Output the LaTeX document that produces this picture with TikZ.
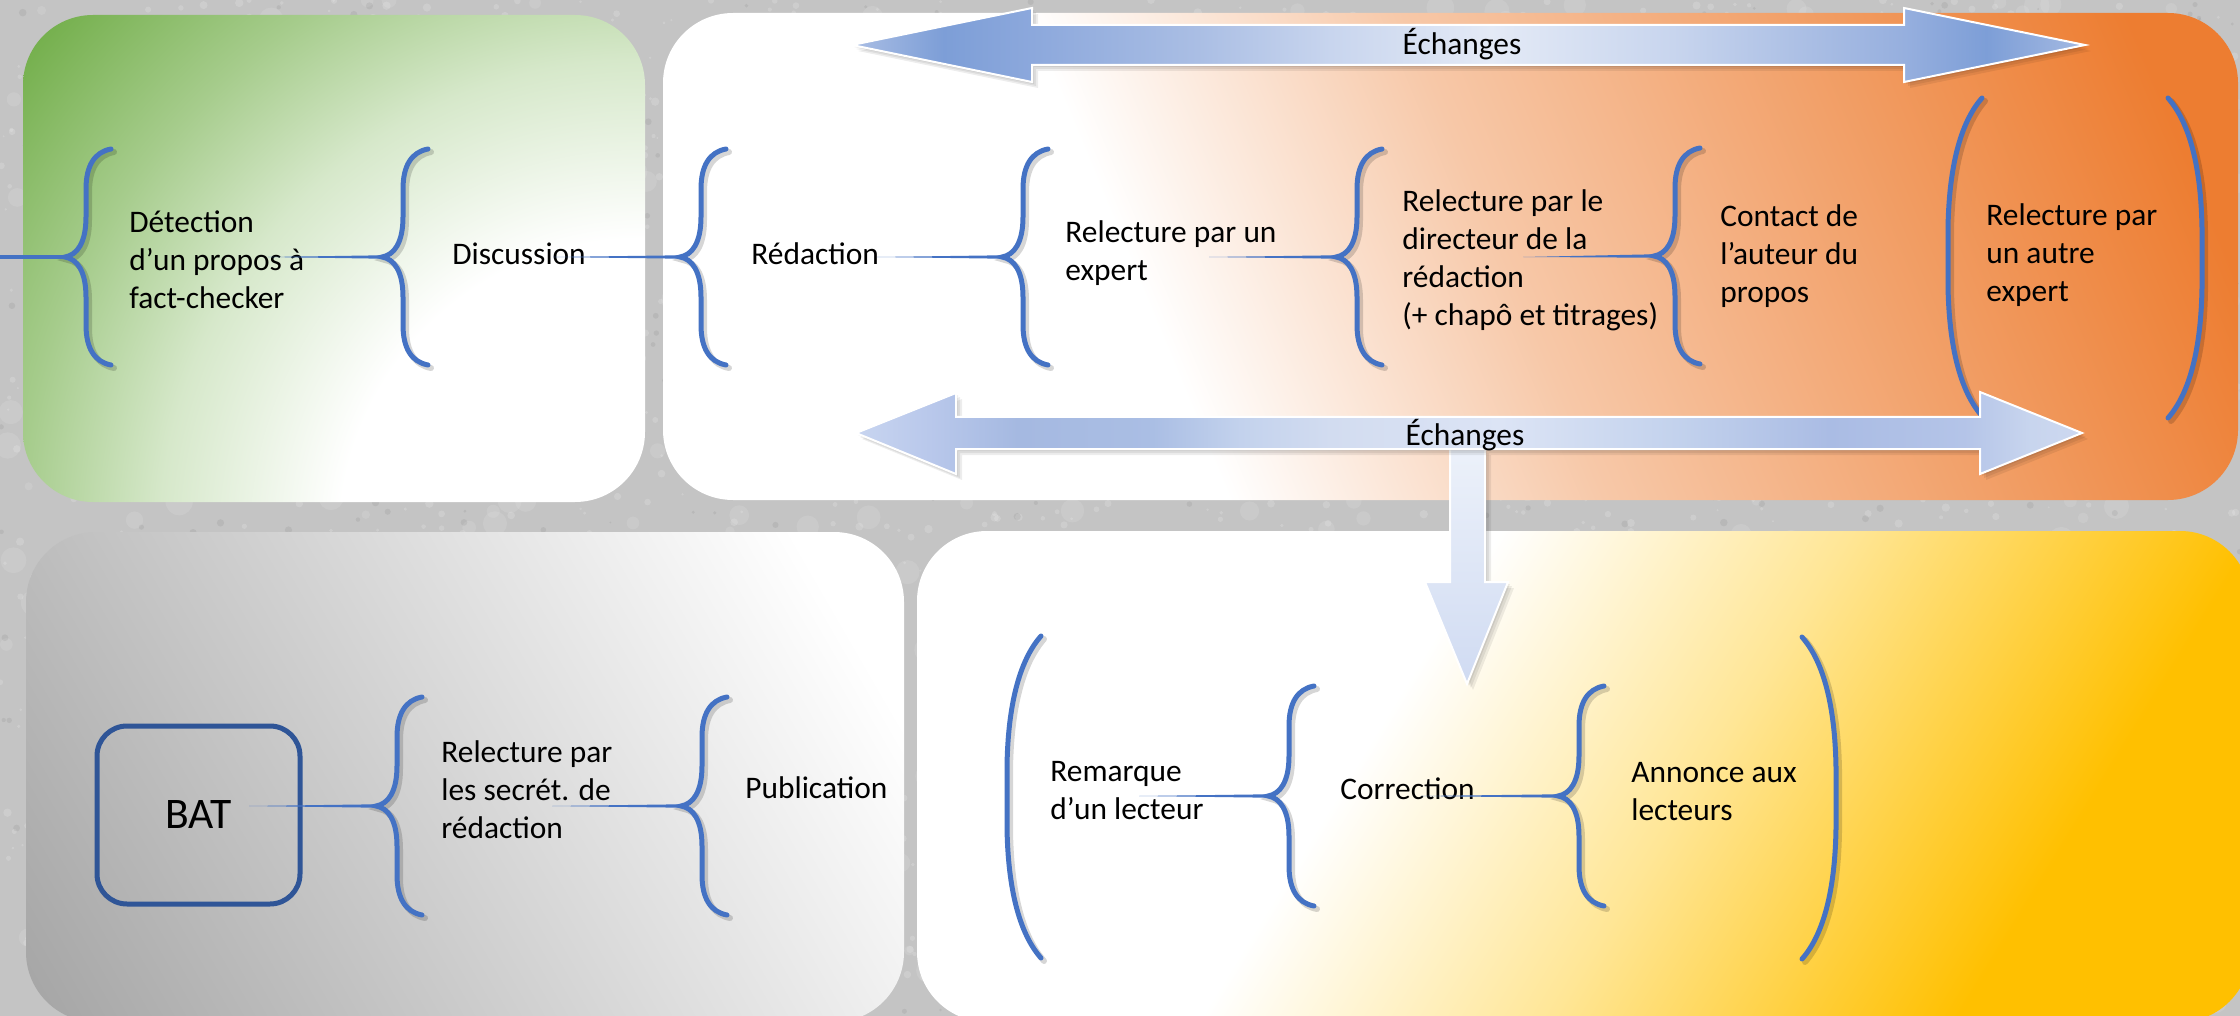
\documentclass[tikz,border=0pt]{standalone}
\usepackage{fontspec}
\setmainfont{Carlito}
\usetikzlibrary{calc}

% ---------- colours ----------
\definecolor{bgGrey}{RGB}{196,196,196}
\definecolor{braceBlue}{RGB}{68,114,196}
\definecolor{batBlue}{RGB}{47,85,151}
\definecolor{grnA}{RGB}{112,173,71}
\definecolor{grnB}{RGB}{166,204,140}
\definecolor{grnC}{RGB}{214,232,202}
\definecolor{orgA}{RGB}{247,200,168}
\definecolor{orgB}{RGB}{237,125,49}
\definecolor{gryA}{RGB}{165,165,165}
\definecolor{ylwA}{RGB}{255,230,150}
\definecolor{ylwB}{RGB}{255,192,0}
\definecolor{downTop}{RGB}{236,241,250}
\definecolor{downBot}{RGB}{208,219,242}

% ---------- panel gradients ----------
% green: radial, white around the lower right corner
\pgfdeclareradialshading{greenpanel}{\pgfpoint{0bp}{0bp}}{color(0bp)=(white); color(9.4bp)=(white); color(15bp)=(grnC); color(19.4bp)=(grnB); color(25bp)=(grnA); color(50bp)=(grnA)}
\pgfdeclarehorizontalshading{orangepanel}{100bp}{color(0bp)=(white); color(41bp)=(white); color(51.5bp)=(orgA); color(71.7bp)=(orgB); color(100bp)=(orgB)}
\pgfdeclarehorizontalshading{greypanel}{100bp}{color(0bp)=(gryA); color(25.5bp)=(gryA); color(70bp)=(white); color(100bp)=(white)}
\pgfdeclarehorizontalshading{yellowpanel}{100bp}{color(0bp)=(white); color(43bp)=(white); color(53.5bp)=(ylwA); color(65.7bp)=(ylwB); color(100bp)=(ylwB)}

% ---------- block arrow gradients ----------
\pgfdeclarehorizontalshading{toparrow}{100bp}{%
rgb(0bp)=(0.667,0.745,0.894);
rgb(25bp)=(0.667,0.745,0.894);
rgb(28.7bp)=(0.490,0.620,0.843);
rgb(32.3bp)=(0.549,0.659,0.863);
rgb(39bp)=(0.667,0.745,0.894);
rgb(44.4bp)=(0.784,0.835,0.933);
rgb(50.9bp)=(0.894,0.918,0.965);
rgb(58.3bp)=(0.784,0.835,0.933);
rgb(63.8bp)=(0.667,0.745,0.894);
rgb(67.7bp)=(0.588,0.686,0.871);
rgb(71bp)=(0.490,0.620,0.843);
rgb(75bp)=(0.647,0.729,0.886);
rgb(100bp)=(0.647,0.729,0.886)}
\pgfdeclarehorizontalshading{botarrow}{100bp}{%
rgb(0bp)=(0.784,0.835,0.941);
rgb(25bp)=(0.784,0.835,0.941);
rgb(28bp)=(0.725,0.784,0.922);
rgb(31.6bp)=(0.647,0.725,0.882);
rgb(37.1bp)=(0.667,0.745,0.894);
rgb(40.7bp)=(0.765,0.824,0.929);
rgb(44.4bp)=(0.824,0.863,0.941);
rgb(51.3bp)=(0.863,0.894,0.961);
rgb(58.4bp)=(0.765,0.824,0.929);
rgb(64.7bp)=(0.667,0.737,0.894);
rgb(70.2bp)=(0.706,0.769,0.910);
rgb(72.9bp)=(0.784,0.835,0.933);
rgb(75bp)=(0.804,0.847,0.941);
rgb(100bp)=(0.804,0.847,0.941)}

% ---------- shape paths ----------
\newcommand\curlypath[1]{(46,-#1) .. controls (30,-#1+3) and (21,-#1+16) .. (21,-#1+40) -- (21,-40) .. controls (21,-14) and (12,-2) .. (0,0) .. controls (12,2) and (21,14) .. (21,40) -- (21,#1-40) .. controls (21,#1-16) and (30,#1-3) .. (46,#1)}
\newcommand\parenpath[2]{(#2*34,-#1) .. controls (#2*12,-#1+25) and (#2*1,-#1+70) .. (0,-#1+130) -- (0,#1-130) .. controls (#2*1,#1-70) and (#2*12,#1-25) .. (#2*34,#1)}
\newcommand\toparrowpath{(852,45) -- (1032,8) -- (1032,25) -- (1904,25) -- (1904,8) -- (2085,45) -- (1904,82) -- (1904,65) -- (1032,65) -- (1032,82) -- cycle}
\newcommand\botarrowpath{(856,433) -- (956,393) -- (956,417) -- (1980,417) -- (1980,392) -- (2082,433) -- (1980,474) -- (1980,449) -- (956,449) -- (956,474) -- cycle}
\newcommand\downarrowpath{(1450,449) -- (1485,449) -- (1485,582) -- (1508,582) -- (1467,684) -- (1425,582) -- (1450,582) -- cycle}
\newcommand\txtlines[1]{\begin{tabular}[t]{@{}l@{}}#1\end{tabular}}

\tikzset{
  braceline/.style={draw=braceBlue, line width=2.5pt, line cap=round},
  braceshade/.style={draw=black, opacity=0.16, line width=3pt, line cap=round, shift={(3,3)}},
  pics/curly/.style={code={
    \path[braceshade] \curlypath{#1};
    \path[braceline] \curlypath{#1};
  }},
  pics/lparen/.style={code={
    \path[braceshade] \parenpath{#1}{1};
    \path[braceline] \parenpath{#1}{1};
  }},
  pics/rparen/.style={code={
    \path[braceshade] \parenpath{#1}{-1};
    \path[braceline] \parenpath{#1}{-1};
  }},
  lbl/.style={anchor=base west, inner sep=0pt, font=\fontsize{15.7}{19}\selectfont, text=black},
  arrowlbl/.style={anchor=base, inner sep=0pt, font=\fontsize{15.7}{19}\selectfont, text=black},
  batbox/.style={draw=batBlue, line width=2.5pt, rounded corners=15pt, minimum width=101.5pt,
    minimum height=89pt, inner sep=0pt, font=\fontsize{21.8}{26}\selectfont, text=black},
  connline/.style={draw=braceBlue, line width=1.7pt},
  conntaper/.style={fill=braceBlue},
  panelclip/.style={rounded corners=35pt},
  arrowedge/.style={draw=white, line width=1pt},
}

\begin{document}
\begin{tikzpicture}[x=0.5pt, y=-0.5pt]
\useasboundingbox (0,0) rectangle (2240,1016);
\clip (0,0) rectangle (2240,1016);

% ---------- mottled grey background ----------
\fill[bgGrey] (0,0) rectangle (2240,1016);
\pgfmathsetseed{4242}
\foreach \k in {1,...,700}{
  \pgfmathsetmacro{\tx}{2240*rnd}
  \pgfmathsetmacro{\ty}{1016*rnd}
  \pgfmathsetmacro{\tr}{2+5*rnd}
  \fill[white, opacity=0.11] (\tx,\ty) circle[radius=\tr pt];
}
\foreach \k in {1,...,2600}{
  \pgfmathsetmacro{\tx}{2240*rnd}
  \pgfmathsetmacro{\ty}{1016*rnd}
  \pgfmathsetmacro{\tr}{0.5+1.6*rnd}
  \fill[white, opacity=0.17] (\tx,\ty) circle[radius=\tr pt];
}
\foreach \k in {1,...,1000}{
  \pgfmathsetmacro{\tx}{2240*rnd}
  \pgfmathsetmacro{\ty}{1016*rnd}
  \pgfmathsetmacro{\tr}{0.5+1.4*rnd}
  \fill[black, opacity=0.06] (\tx,\ty) circle[radius=\tr pt];
}

% ---------- four panels ----------
\begin{scope}
  \clip[panelclip] (23,15) rectangle (645,502);
  \shade[shading=greenpanel] (-160,-260) rectangle (1440,1340);
\end{scope}
\begin{scope}
  \clip[panelclip] (663,13) rectangle (2238,500);
  \shade[shading=orangepanel, shading angle=22.6] (620,-574) rectangle (2280,1086);
\end{scope}
\begin{scope}
  \clip[panelclip] (26,532) rectangle (904,1022);
  \shade[shading=greypanel, shading angle=30] (-45,266) rectangle (975,1286);
\end{scope}
\begin{scope}
  \clip[panelclip] (917,531) rectangle (2250,1022);
  \shade[shading=yellowpanel, shading angle=-31.6] (868,61) rectangle (2298,1491);
\end{scope}

% ---------- brace tips and connector starts ----------
\coordinate (b1) at (65,257);
\coordinate (b2) at (382,257);
\coordinate (b3) at (680,257);
\coordinate (b4) at (1002,257);
\coordinate (b5) at (1336,257);
\coordinate (b6) at (1654,256);
\coordinate (b7) at (376,806);
\coordinate (b8) at (681,806);
\coordinate (b9) at (1268,796);
\coordinate (b10) at (1558,796);
\coordinate (s1) at (0,257);
\coordinate (s2) at (268,257);
\coordinate (s3) at (553,257);
\coordinate (s4) at (877,257);
\coordinate (s5) at (1209,257);
\coordinate (s6) at (1523,257);
\coordinate (s7) at (249,806);
\coordinate (s8) at (552,806);
\coordinate (s9) at (1139,796);
\coordinate (s10) at (1421,796);
\coordinate (p1) at (1948,257);
\coordinate (p2) at (2202,258);
\coordinate (p3) at (1007,797);
\coordinate (p4) at (1836,798);

% ---------- braces and brackets ----------
\pic at (b1) {curly=108};
\pic at (b2) {curly=108};
\pic at (b3) {curly=108};
\pic at (b4) {curly=108};
\pic at (b5) {curly=108};
\pic at (b6) {curly=108};
\pic at (b7) {curly=109};
\pic at (b8) {curly=109};
\pic at (b9) {curly=110};
\pic at (b10) {curly=110};
\pic at (p1) {lparen=159};
\pic at (p2) {rparen=160};
\pic at (p3) {lparen=161};
\pic at (p4) {rparen=161};

% ---------- step labels ----------
\node[lbl] (detect) at (129,233) {\txtlines{Détection\\d’un propos à\\fact-checker}};
\node[lbl] (discuss) at (452,265) {Discussion};
\node[lbl] (redac) at (751,265) {Rédaction};
\node[lbl] (expert) at (1065,243) {\txtlines{Relecture par un\\expert}};
\node[lbl] (director) at (1402,212) {\txtlines{Relecture par le\\directeur de la\\rédaction\\(+ chapô et titrages)}};
\node[lbl] (contact) at (1720,227) {\txtlines{Contact de\\l’auteur du\\propos}};
\node[lbl] (other) at (1986,226) {\txtlines{Relecture par\\un autre\\expert}};
\node[lbl] (secret) at (441,762) {\txtlines{Relecture par\\les secrét. de\\rédaction}};
\node[lbl] (publi) at (745,798) {Publication};
\node[lbl] (reader) at (1050,781) {\txtlines{Remarque\\d’un lecteur}};
\node[lbl] (correct) at (1340,799) {Correction};
\node[lbl] (announce) at (1631,782) {\txtlines{Annonce aux\\lecteurs}};
\node[batbox] (bat) at (198.5,815) {BAT};

% ---------- connectors into the braces ----------
\draw[connline] (s1) -- (b1);
\foreach \n in {2,...,10}{
  \fill[conntaper] (s\n) -- ([yshift=-0.85pt]b\n) -- ([yshift=0.85pt]b\n) -- cycle;
}

% ---------- exchange arrows ----------
\foreach \d in {2,4,6}{
  \fill[black, opacity=0.07, shift={(\d,\d)}] \downarrowpath;
}
\shadedraw[top color=downTop, bottom color=downBot, arrowedge] \downarrowpath;

\foreach \d in {2,4,6}{
  \fill[black, opacity=0.07, shift={(\d,\d)}] \toparrowpath;
  \fill[black, opacity=0.07, shift={(\d,\d)}] \botarrowpath;
}
\shadedraw[shading=toparrow, arrowedge] \toparrowpath;
\shadedraw[shading=botarrow, arrowedge] \botarrowpath;
\node[arrowlbl] (ex1) at (1462,55) {Échanges};
\node[arrowlbl] (ex2) at (1465,445) {Échanges};

\end{tikzpicture}
\end{document}
